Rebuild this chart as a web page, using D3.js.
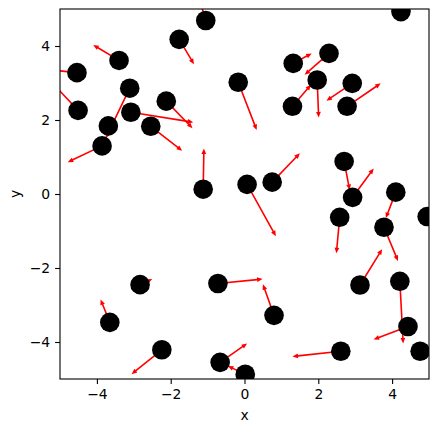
<!DOCTYPE html>
<html>
<head>
<meta charset="utf-8">
<script src="https://cdn.jsdelivr.net/npm/d3@7"></script>
<style>
  html, body { margin: 0; padding: 0; background: #fff; }
  svg { display: block; }
  text { font-family: "DejaVu Sans", sans-serif; }
</style>
</head>
<body>
<script>
// Point positions (data units)
const px = [-4.54,-4.51,-3.40,-3.11,-3.08,-3.69,-3.86,-2.54,-2.12,-1.77,
            -1.05,-1.12,-0.17, 0.07, 0.75, 1.32, 2.29, 1.97, 1.30, 2.92,
             2.78, 4.24, 2.70, 2.93, 2.58, 4.10, 3.78, 4.95, 3.13, 4.21,
             4.43, 4.76, 2.61, 0.80,-0.72,-0.66, 0.02,-2.24,-2.83,-3.65];
const py = [ 3.28, 2.26, 3.61, 2.86, 2.21, 1.84, 1.30, 1.83, 2.51, 4.18,
             4.69, 0.13, 3.02, 0.26, 0.32, 3.53, 3.80, 3.08, 2.37, 2.99,
             2.37, 4.93, 0.88,-0.09,-0.63, 0.05,-0.90,-0.61,-2.46,-2.36,
            -3.58,-4.25,-4.25,-3.28,-2.42,-4.55,-4.87,-4.21,-2.45,-3.47];
// Arrow tips (data units)
const tx = [-5.50,-5.30,-4.10,-3.76,-1.39,-3.60,-4.79,-1.69,-1.41,-1.37,
            -1.20,-1.10, 0.33, 0.85, 1.50, 1.82, 1.63, 2.01, 1.80, 2.22,
             3.69, 4.30, 2.85, 3.50, 2.49, 3.83, 4.16, 5.40, 3.73, 4.30,
             3.50, 4.85, 1.30, 0.50, 0.49, 0.07,-0.45,-3.06,-2.50,-3.90];
const ty = [ 3.38, 3.10, 4.03, 1.51, 1.94, 1.95, 0.86, 1.17, 1.78, 3.51,
             5.20, 1.23, 1.73,-1.14, 1.10, 3.80, 3.22, 2.07, 2.95, 2.52,
             2.99, 5.05, 0.11, 0.69,-1.60,-0.65,-1.81,-0.55,-1.49,-4.04,
            -3.93,-4.15,-4.39,-2.44,-2.30,-4.04,-4.65,-4.87,-2.30,-2.85];
const xTicks = [-4, -2, 0, 2, 4];
const yTicks = [-4, -2, 0, 2, 4];

const W = 439, H = 432;
const m = {left: 60, right: 429, top: 9, bottom: 379};

const svg = d3.select("body").append("svg").attr("width", W).attr("height", H);

const x = d3.scaleLinear().domain([-5, 5]).range([m.left, m.right]);
const y = d3.scaleLinear().domain([-5, 5]).range([m.bottom, m.top]);

svg.append("defs").append("clipPath").attr("id", "clip")
  .append("rect").attr("x", m.left).attr("y", m.top)
  .attr("width", m.right - m.left).attr("height", m.bottom - m.top);

const plot = svg.append("g").attr("clip-path", "url(#clip)");

const data = px.map((d, i) => ({x: d, y: py[i], tx: tx[i], ty: ty[i]}));

function arrowPath(d) {
  const x0 = x(d.x), y0 = y(d.y), x1 = x(d.tx), y1 = y(d.ty);
  const dx = x1 - x0, dy = y1 - y0;
  const L = Math.hypot(dx, dy);
  if (L < 0.01) return "";
  const ux = dx / L, uy = dy / L, nx = -uy, ny = ux;
  const sw = 0.8, hw = 2.4;
  const hl = Math.min(5.5, L * 0.6);
  const bx = x1 - ux * hl, by = y1 - uy * hl;
  const pts = [
    [x0 + nx * sw, y0 + ny * sw],
    [bx + nx * sw, by + ny * sw],
    [bx + nx * hw, by + ny * hw],
    [x1, y1],
    [bx - nx * hw, by - ny * hw],
    [bx - nx * sw, by - ny * sw],
    [x0 - nx * sw, y0 - ny * sw]
  ];
  return "M" + pts.map(p => p[0].toFixed(2) + "," + p[1].toFixed(2)).join("L") + "Z";
}

plot.selectAll("path.arrow").data(data).enter().append("path")
  .attr("class", "arrow")
  .attr("d", arrowPath)
  .attr("fill", "#ff0000")
  .attr("stroke", "none");

plot.selectAll("circle").data(data).enter().append("circle")
  .attr("cx", d => x(d.x)).attr("cy", d => y(d.y))
  .attr("r", 9.8).attr("fill", "#000");

// Axes
const xAxis = d3.axisBottom(x).tickValues(xTicks).tickSize(4.9).tickPadding(4.9)
  .tickFormat(d => d < 0 ? "\u2212" + Math.abs(d) : String(d));
const yAxis = d3.axisLeft(y).tickValues(yTicks).tickSize(4.9).tickPadding(4.9)
  .tickFormat(d => d < 0 ? "\u2212" + Math.abs(d) : String(d));

const gx = svg.append("g").attr("transform", `translate(0,${m.bottom})`).call(xAxis);
const gy = svg.append("g").attr("transform", `translate(${m.left},0)`).call(yAxis);
[gx, gy].forEach(g => {
  g.select(".domain").remove();
  g.selectAll(".tick line").attr("stroke", "#000").attr("stroke-width", 1.1);
  g.selectAll(".tick text").attr("fill", "#000").style("font-size", "13.9px")
    .style("font-family", "'DejaVu Sans', sans-serif");
});

// frame
svg.append("rect").attr("x", m.left).attr("y", m.top)
  .attr("width", m.right - m.left).attr("height", m.bottom - m.top)
  .attr("fill", "none").attr("stroke", "#000").attr("stroke-width", 1.1);

svg.append("text").attr("x", (m.left + m.right) / 2).attr("y", 420)
  .attr("text-anchor", "middle").style("font-size", "13.9px").text("x");
svg.append("text").attr("transform", `translate(20,${(m.top + m.bottom) / 2}) rotate(-90)`)
  .attr("text-anchor", "middle").style("font-size", "13.9px").text("y");
</script>
</body>
</html>
